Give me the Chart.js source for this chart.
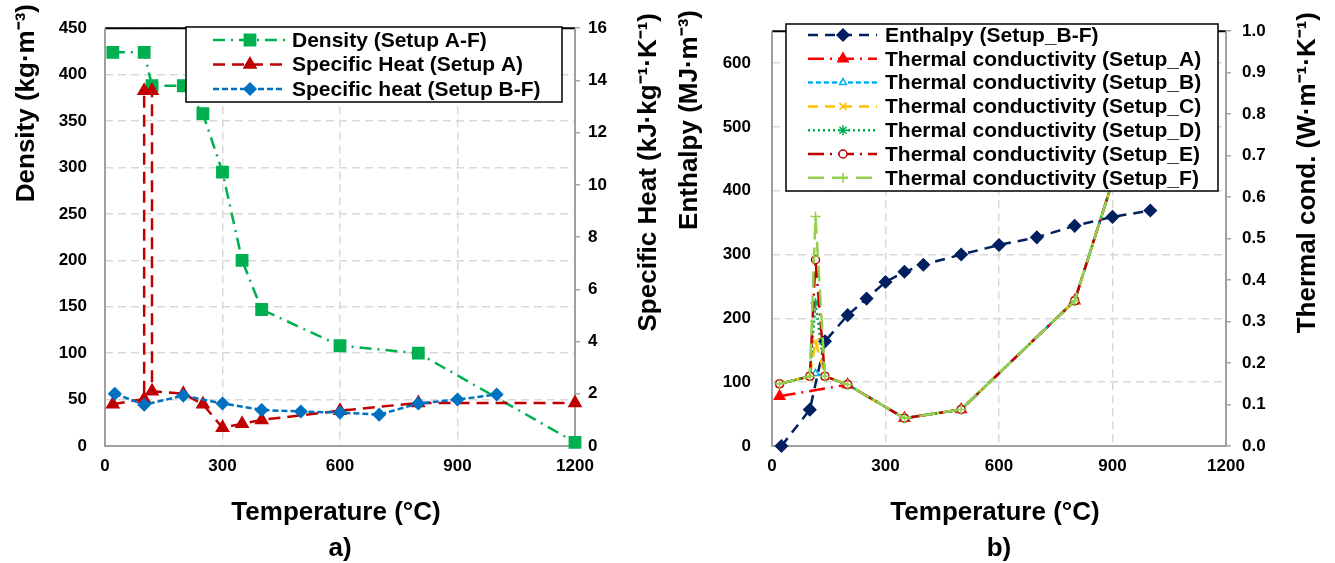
<!DOCTYPE html>
<html>
<head>
<meta charset="utf-8">
<script src="https://cdn.jsdelivr.net/npm/chart.js@4.4.1/dist/chart.umd.min.js"></script>
<style>
  body { margin: 0; background: #fff; width: 1335px; height: 563px; overflow: hidden; }
  .panel { position: absolute; top: 0; height: 563px; }
</style>
</head>
<body>
<div class="panel" style="left:0;width:668px"><canvas id="chartA" width="668" height="563"></canvas></div>
<div class="panel" style="left:668px;width:667px"><canvas id="chartB" width="667" height="563"></canvas></div>
<script>
// ---- tick labels ----
const tempTicks = [0, 300, 600, 900, 1200];
const densityTicks = [0, 50, 100, 150, 200, 250, 300, 350, 400, 450];
const heatTicks = [0, 2, 4, 6, 8, 10, 12, 14, 16];
const enthalpyTicks = [0, 100, 200, 300, 400, 500, 600];
const condTicks = [0.0, 0.1, 0.2, 0.3, 0.4, 0.5, 0.6, 0.7, 0.8, 0.9, 1.0];

// ---- panel a) ----
const densityT = [20, 100, 120, 200, 250, 300, 350, 400, 600, 800, 1200];
const densityVal = [424, 424, 388, 388, 358, 295, 200, 147, 108, 100, 4];

const heatAT = [20, 100, 100, 120, 120, 200, 250, 300, 350, 400, 600, 800, 1200];
const heatAVal = [1.6, 1.8, 13.6, 13.6, 2.1, 2.0, 1.6, 0.7, 0.85, 1.0, 1.35, 1.65, 1.65];

const heatBFT = [25, 100, 200, 300, 400, 500, 600, 700, 800, 900, 1000];
const heatBFVal = [2.0, 1.58, 1.93, 1.63, 1.38, 1.32, 1.28, 1.2, 1.63, 1.78, 1.97];

// ---- panel b) ----
const enthT = [25, 100, 140, 200, 250, 300, 350, 400, 500, 600, 700, 800, 900, 1000];
const enthVal = [0, 57, 164, 205, 231, 257, 273, 284, 300, 315, 327, 345, 359, 369];

const condAT = [20, 200, 350, 500, 800, 1200];
const condA = [0.12, 0.148, 0.067, 0.088, 0.35, 1.5];

const condT = [20, 100, 115, 140, 200, 350, 500, 800, 1200];
const condB = [0.15, 0.168, 0.175, 0.168, 0.148, 0.067, 0.088, 0.35, 1.5];
const condC = [0.15, 0.168, 0.252, 0.168, 0.148, 0.067, 0.088, 0.35, 1.5];
const condD = [0.15, 0.168, 0.345, 0.168, 0.148, 0.067, 0.088, 0.35, 1.5];
const condE = [0.15, 0.168, 0.449, 0.168, 0.148, 0.067, 0.088, 0.35, 1.5];
const condF = [0.15, 0.168, 0.553, 0.168, 0.148, 0.067, 0.088, 0.35, 1.5];

const FONT = '"Liberation Sans", Arial, sans-serif';
Chart.defaults.font.family = FONT;
Chart.defaults.font.weight = 'bold';
Chart.defaults.color = '#000';

const GRID = '#D9D9D9';
const pts = (xs, ys) => xs.map((x, i) => ({ x: x, y: ys[i] }));

function series(label, xs, ys, axis, color, dash, style, radius, fill, extra) {
  return Object.assign({
    label: label,
    data: pts(xs, ys),
    yAxisID: axis,
    borderColor: color,
    backgroundColor: color,
    borderWidth: 2.5,
    borderDash: dash,
    pointStyle: style,
    pointRadius: radius,
    pointHoverRadius: radius,
    pointBackgroundColor: fill,
    pointBorderColor: color,
    pointBorderWidth: 1.5,
    tension: 0,
    clip: false
  }, extra || {});
}

// layout, legend and title settings for each panel
const panelCfg = {
  chartA: {
    leftW: 105, rightW: 93,
    legend: { x: 186, y: 27, w: 376, h: 75, row0: 40, gap: 24.5, l0: 213, l1: 285, mark: 250, text: 292 },
    leftTitle: { text: 'Density (kg·m⁻³)', x: 27, top: 4 },
    rightTitle: { text: 'Specific Heat (kJ·kg⁻¹·K⁻¹)', x: 649, top: 13 },
    xTitle: 'Temperature (°C)', tag: 'a)'
  },
  chartB: {
    leftW: 104, rightW: 109,
    legend: { x: 118, y: 24, w: 432, h: 167, row0: 35, gap: 23.8, l0: 140, l1: 209, mark: 175, text: 217 },
    leftTitle: { text: 'Enthalpy (MJ·m⁻³)', x: 22, top: 10 },
    rightTitle: { text: 'Thermal cond. (W·m⁻¹·K⁻¹)', x: 640, top: 12 },
    xTitle: 'Temperature (°C)', tag: 'b)'
  }
};

function vTitle(ctx, t) {
  ctx.save();
  ctx.translate(t.x, t.top);
  ctx.rotate(-Math.PI / 2);
  ctx.textAlign = 'right';
  ctx.textBaseline = 'middle';
  ctx.fillStyle = '#000';
  ctx.font = 'bold 26px ' + FONT;
  ctx.fillText(t.text, 0, 0);
  ctx.restore();
}

const decor = {
  id: 'decor',
  beforeDatasetsDraw(chart) {
    // plot frame: black top, grey axis lines
    const ctx = chart.ctx, a = chart.chartArea;
    ctx.save();
    ctx.lineWidth = 2;
    ctx.strokeStyle = '#000';
    ctx.beginPath(); ctx.moveTo(a.left, a.top); ctx.lineTo(a.right, a.top); ctx.stroke();
    ctx.strokeStyle = '#A0A0A0';
    ctx.beginPath();
    ctx.moveTo(a.left, a.top); ctx.lineTo(a.left, a.bottom);
    ctx.lineTo(a.right, a.bottom); ctx.lineTo(a.right, a.top);
    ctx.stroke();
    ctx.restore();
  },
  afterDraw(chart) {
    const cfg = panelCfg[chart.canvas.id];
    const ctx = chart.ctx, a = chart.chartArea, L = cfg.legend;
    ctx.save();
    // legend box
    ctx.fillStyle = '#fff';
    ctx.fillRect(L.x, L.y, L.w, L.h);
    ctx.strokeStyle = '#000';
    ctx.lineWidth = 1.5;
    ctx.strokeRect(L.x, L.y, L.w, L.h);
    chart.data.datasets.forEach((ds, i) => {
      const y = L.row0 + i * L.gap;
      ctx.setLineDash(ds.borderDash);
      ctx.strokeStyle = ds.borderColor;
      ctx.lineWidth = ds.borderWidth;
      ctx.beginPath(); ctx.moveTo(L.l0, y); ctx.lineTo(L.l1, y); ctx.stroke();
      ctx.setLineDash([]);
      ctx.fillStyle = ds.pointBackgroundColor;
      ctx.strokeStyle = ds.pointBorderColor;
      ctx.lineWidth = ds.pointBorderWidth;
      Chart.helpers.drawPoint(ctx, { pointStyle: ds.pointStyle, radius: ds.pointRadius, rotation: 0, borderWidth: ds.pointBorderWidth }, L.mark, y);
      ctx.fillStyle = '#000';
      ctx.font = 'bold 21px ' + FONT;
      ctx.textAlign = 'left';
      ctx.textBaseline = 'middle';
      ctx.fillText(ds.label, L.text, y + 1);
    });
    // axis titles
    const cx = (a.left + a.right) / 2;
    ctx.font = 'bold 26px ' + FONT;
    ctx.textAlign = 'center';
    ctx.textBaseline = 'middle';
    ctx.fillStyle = '#000';
    ctx.fillText(cfg.xTitle, cx - 4, 513);
    ctx.fillText(cfg.tag, cx, 549);
    ctx.restore();
    vTitle(ctx, cfg.leftTitle);
    vTitle(ctx, cfg.rightTitle);
  }
};

function makeScales(id, leftTicks, leftMax, leftPad, rightTicks, rightMax, rightPad, rightFmt) {
  const cfg = panelCfg[id];
  return {
    x: {
      type: 'linear', min: 0, max: 1200,
      afterBuildTicks: s => { s.ticks = tempTicks.map(v => ({ value: v })); },
      ticks: { font: { size: 17 }, padding: 10, maxRotation: 0, callback: v => String(v) },
      grid: { color: GRID, lineWidth: 1.5, drawTicks: false },
      border: { display: false, dash: [8, 5] },
      afterFit: s => { s.height = 117; }
    },
    y: {
      position: 'left', min: 0, max: leftMax,
      afterBuildTicks: s => { s.ticks = leftTicks.map(v => ({ value: v })); },
      ticks: { font: { size: 17 }, padding: leftPad, callback: v => String(v) },
      grid: { color: GRID, lineWidth: 1.5, drawTicks: false },
      border: { display: false, dash: [8, 5] },
      afterFit: s => { s.width = cfg.leftW; }
    },
    y2: {
      position: 'right', min: 0, max: rightMax,
      afterBuildTicks: s => { s.ticks = rightTicks.map(v => ({ value: v })); },
      ticks: { font: { size: 17 }, padding: rightPad, callback: rightFmt },
      grid: { drawOnChartArea: false, drawTicks: true, tickLength: 5, color: '#A6A6A6', lineWidth: 1.5 },
      border: { display: false },
      afterFit: s => { s.width = cfg.rightW; }
    }
  };
}

function baseOptions(scales) {
  return {
    responsive: false,
    animation: false,
    layout: { padding: { top: 14, left: 0, right: 0, bottom: 0 } },
    plugins: { legend: { display: false }, tooltip: { enabled: false } },
    scales: scales
  };
}

// later series are drawn on top, as in the original
function stackOrder(list) {
  list.forEach((ds, i) => { ds.order = list.length - i; });
  return list;
}

new Chart(document.getElementById('chartA'), {
  type: 'line',
  data: {
    datasets: stackOrder([
      series('Density (Setup A-F)', densityT, densityVal, 'y', '#00B050', [12, 6, 2, 6], 'rect', 8, '#00B050'),
      series('Specific Heat (Setup A)', heatAT, heatAVal, 'y2', '#C00000', [12, 7], 'triangle', 7, '#C00000'),
      series('Specific heat (Setup B-F)', heatBFT, heatBFVal, 'y2', '#0070C0', [6, 3], 'rectRot', 6, '#0070C0')
    ])
  },
  options: baseOptions(makeScales('chartA', densityTicks, 450, 18, heatTicks, 16, 8, v => String(v))),
  plugins: [decor]
});

const tcClip = { left: 10, top: 0, right: 10, bottom: 10 };

new Chart(document.getElementById('chartB'), {
  type: 'line',
  data: {
    datasets: stackOrder([
      series('Enthalpy (Setup_B-F)', enthT, enthVal, 'y', '#002060', [10, 7], 'rectRot', 6, '#002060'),
      series('Thermal conductivity (Setup_A)', condAT, condA, 'y2', '#FF0000', [16, 6, 2, 6], 'triangle', 6, '#FF0000', { clip: tcClip }),
      series('Thermal conductivity (Setup_B)', condT, condB, 'y2', '#00B0F0', [5, 3], 'triangle', 4, '#FFFFFF', { clip: tcClip }),
      series('Thermal conductivity (Setup_C)', condT, condC, 'y2', '#FFC000', [10, 7], 'crossRot', 5, '#FFC000', { clip: tcClip }),
      series('Thermal conductivity (Setup_D)', condT, condD, 'y2', '#00B050', [2, 3], 'star', 5, '#00B050', { clip: tcClip }),
      series('Thermal conductivity (Setup_E)', condT, condE, 'y2', '#C00000', [16, 6, 2, 6], 'circle', 4, '#FFFFFF', { clip: tcClip }),
      series('Thermal conductivity (Setup_F)', condT, condF, 'y2', '#92D050', [16, 8], 'cross', 5, '#92D050', { clip: tcClip })
    ])
  },
  options: baseOptions(makeScales('chartB', enthalpyTicks, 650, 21, condTicks, 1.0, 11, v => v.toFixed(1))),
  plugins: [decor]
});
</script>
</body>
</html>
